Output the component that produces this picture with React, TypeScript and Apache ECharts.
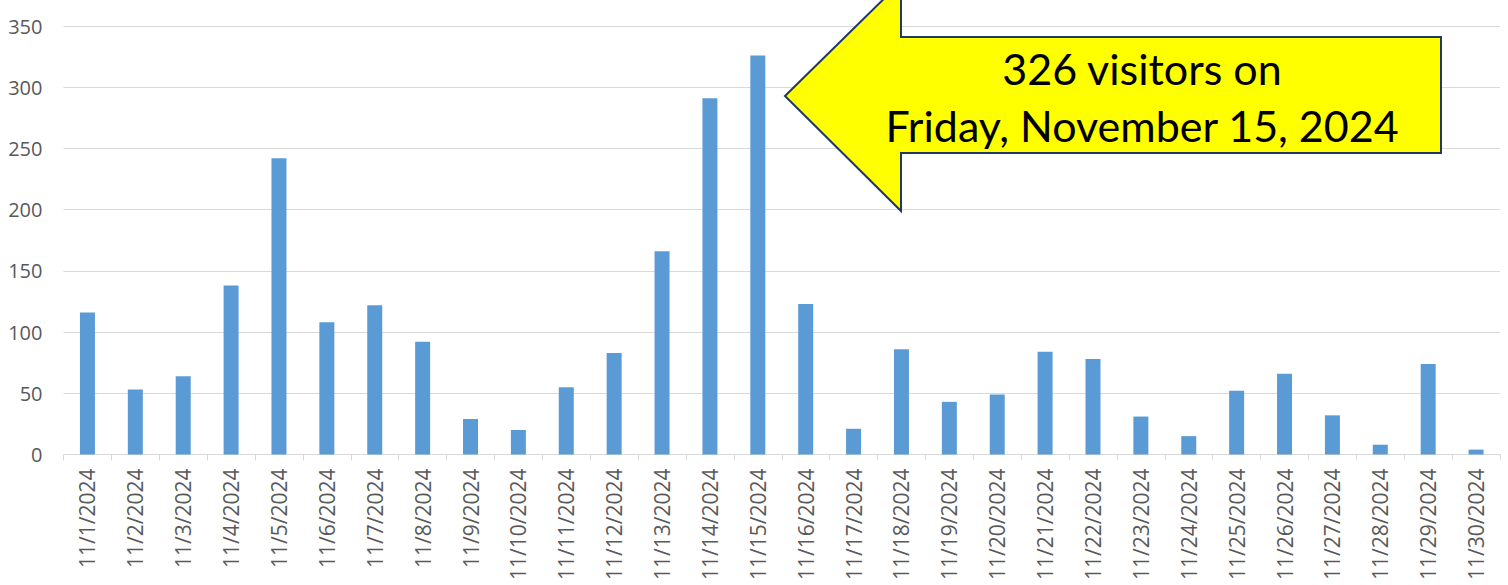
import React, { useEffect, useRef } from "react";
import * as echarts from "echarts";

const categories = [
  "11/1/2024", "11/2/2024", "11/3/2024", "11/4/2024", "11/5/2024", "11/6/2024",
  "11/7/2024", "11/8/2024", "11/9/2024", "11/10/2024", "11/11/2024", "11/12/2024",
  "11/13/2024", "11/14/2024", "11/15/2024", "11/16/2024", "11/17/2024", "11/18/2024",
  "11/19/2024", "11/20/2024", "11/21/2024", "11/22/2024", "11/23/2024", "11/24/2024",
  "11/25/2024", "11/26/2024", "11/27/2024", "11/28/2024", "11/29/2024", "11/30/2024",
];

const visitors = [
  116, 53, 64, 138, 242, 108, 122, 92, 29, 20, 55, 83, 166, 291, 326,
  123, 21, 86, 43, 49, 84, 78, 31, 15, 52, 66, 32, 8, 74, 4,
];

const calloutLines = ["326 visitors on", "Friday, November 15, 2024"];

export default function App() {
  const ref = useRef<HTMLDivElement>(null);

  useEffect(() => {
    if (!ref.current) return;
    const chart = echarts.init(ref.current, null, { renderer: "svg" });
    chart.setOption({
      animation: false,
      backgroundColor: "#ffffff",
      grid: { left: 63.5, right: 8, top: 26, bottom: 130.5, containLabel: false },
      xAxis: {
        type: "category",
        data: categories,
        boundaryGap: true,
        axisLine: { show: true, lineStyle: { color: "#D9D9D9", width: 1 } },
        axisTick: { show: true, length: 6, lineStyle: { color: "#D9D9D9" } },
        axisLabel: {
          rotate: 90,
          interval: 0,
          margin: 14,
          color: "#595959",
          fontSize: 21,
          fontFamily: "Open Sans",
        },
      },
      yAxis: {
        type: "value",
        min: 0,
        max: 350,
        interval: 50,
        axisLine: { show: false },
        axisTick: { show: false },
        axisLabel: {
          margin: 21,
          color: "#595959",
          fontSize: 20,
          fontFamily: "Open Sans",
        },
        splitLine: { lineStyle: { color: "#D9D9D9", width: 1 } },
      },
      series: [
        {
          type: "bar",
          data: visitors,
          barWidth: 15,
          itemStyle: { color: "#5B9BD5" },
        },
      ],
      graphic: [
        {
          type: "polygon",
          z: 100,
          shape: {
            points: [
              [785, 96],
              [901, -18],
              [901, 37],
              [1441, 37],
              [1441, 153],
              [901, 153],
              [901, 211],
            ],
          },
          style: { fill: "#FFFF00", stroke: "#1F3864", lineWidth: 2 },
        },
        {
          type: "text",
          z: 101,
          x: 1142,
          y: 68,
          style: {
            text: calloutLines[0],
            fill: "#000000",
            font: "43px Lato",
            align: "center",
            verticalAlign: "middle",
          },
        },
        {
          type: "text",
          z: 101,
          x: 1142,
          y: 125,
          style: {
            text: calloutLines[1],
            fill: "#000000",
            font: "43px Lato",
            align: "center",
            verticalAlign: "middle",
          },
        },
      ],
    });
    return () => chart.dispose();
  }, []);

  return (
    <div
      ref={ref}
      style={{ position: "fixed", left: 0, top: 0, width: 1508, height: 585 }}
    />
  );
}
